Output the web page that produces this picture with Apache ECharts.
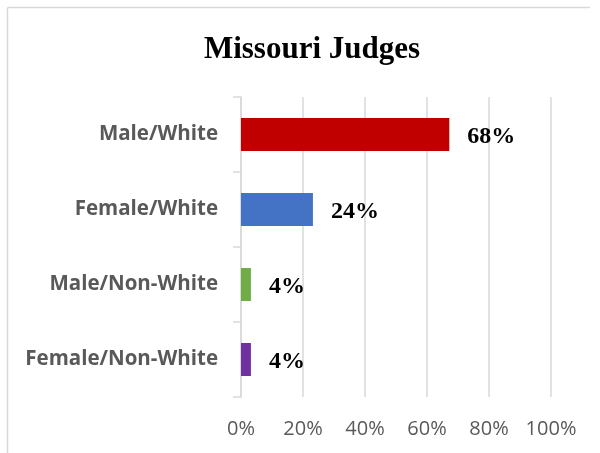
<!DOCTYPE html>
<html>
<head>
<meta charset="utf-8">
<script src="https://cdn.jsdelivr.net/npm/echarts@6/dist/echarts.min.js"></script>
<style>html,body{margin:0;padding:0;background:#fff}#c{width:600px;height:453px}</style>
</head>
<body>
<div id="c"></div>
<script>
var categories = ["Male/White", "Female/White", "Male/Non-White", "Female/Non-White"];
var values = [67.2, 23.2, 3.2, 3.2];
var valueLabels = ["68%", "24%", "4%", "4%"];
var barColors = ["#C00000", "#4472C4", "#70AD47", "#7030A0"];
var xTicks = [0, 20, 40, 60, 80, 100];

var chart = echarts.init(document.getElementById('c'), null, {renderer: 'canvas'});
chart.setOption({
  animation: false,
  backgroundColor: '#fff',
  title: {
    text: 'Missouri Judges',
    left: 307, top: 29, textAlign: 'center',
    textStyle: {fontFamily: 'Liberation Serif', fontWeight: 'bold', fontSize: 31, color: '#000'}
  },
  graphic: [
    {type: 'line', shape: {x1: 7.5, y1: 7.5, x2: 590, y2: 7.5}, style: {stroke: '#d9d9d9', lineWidth: 1.5}, silent: true},
    {type: 'line', shape: {x1: 7.5, y1: 7.5, x2: 7.5, y2: 453}, style: {stroke: '#d9d9d9', lineWidth: 1.5}, silent: true}
  ],
  grid: {left: 241, right: 49, top: 97, bottom: 56, containLabel: false},
  xAxis: {
    type: 'value', min: xTicks[0], max: xTicks[xTicks.length - 1], interval: 20,
    axisLine: {show: false}, axisTick: {show: false},
    splitLine: {show: true, lineStyle: {color: '#d9d9d9', width: 1.5}},
    axisLabel: {
      formatter: function (v) { return v + '%'; },
      fontFamily: 'Open Sans', fontSize: 20, color: '#595959', margin: 22
    }
  },
  yAxis: {
    type: 'category', data: categories, inverse: true,
    axisLine: {show: true, lineStyle: {color: '#d9d9d9', width: 1.5}},
    axisTick: {show: true, length: 8, lineStyle: {color: '#d9d9d9', width: 1.5}},
    axisLabel: {fontFamily: 'Open Sans', fontWeight: 'bold', fontSize: 20.5, color: '#595959', margin: 23}
  },
  series: [{
    type: 'bar',
    barWidth: 33,
    data: values.map(function (v, i) { return {value: v, itemStyle: {color: barColors[i]}}; }),
    label: {
      show: true, position: 'right', distance: 18, offset: [0, 2],
      formatter: function (p) { return valueLabels[p.dataIndex]; },
      fontFamily: 'Liberation Serif', fontWeight: 'bold', fontSize: 24, color: '#000'
    }
  }]
});
</script>
</body>
</html>
